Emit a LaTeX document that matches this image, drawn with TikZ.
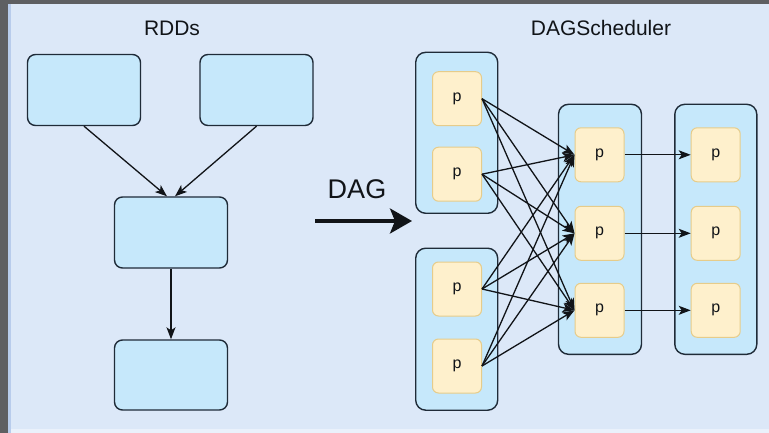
\documentclass[tikz,border=0pt]{standalone}
\usepackage{fontspec}
\setmainfont{Liberation Sans}
\usetikzlibrary{arrows.meta}

\definecolor{pagebg}{HTML}{DCE8F8}
\definecolor{frame}{HTML}{5E5F62}
\definecolor{frameedge}{HTML}{B8CCEC}
\definecolor{boxfill}{HTML}{C6E8FB}
\definecolor{boxline}{HTML}{1F2B38}
\definecolor{pfill}{HTML}{FEF0CC}
\definecolor{pline}{HTML}{E6CC8A}
\definecolor{ink}{HTML}{111418}

\tikzset{
  rddbox/.style={draw=boxline, fill=boxfill, line width=1.4pt, rounded corners=8pt,
    minimum width=113pt, minimum height=71pt, inner sep=0pt},
  stagebox/.style={draw=boxline, fill=boxfill, line width=1.4pt, rounded corners=10pt,
    minimum width=82pt, inner sep=0pt},
  pbox/.style={draw=pline, fill=pfill, line width=1pt, rounded corners=6pt,
    minimum width=49pt, minimum height=54pt, inner sep=0pt, text=ink,
    font=\fontsize{16}{16}\selectfont},
  label/.style={text=ink, inner sep=0pt, font=\fontsize{21}{21}\selectfont},
  link/.style={draw=ink, line width=1.3pt, -{Stealth[length=12pt,width=9pt,inset=3pt]}},
}

\begin{document}
\begin{tikzpicture}[x=1pt,y=-1pt]
\useasboundingbox (0,0) rectangle (769,433);
% page background and window frame
\fill[pagebg] (0,0) rectangle (769,433);
\fill[white!40!pagebg] (10,429) rectangle (769,433);
\fill[frameedge] (8,4) rectangle (10.5,433);
\fill[frame] (0,0) rectangle (769,4);
\fill[frame] (0,0) rectangle (8,433);

% titles
\node[label] (rddtitle) at (172,28) {RDDs};
\node[label] (schedtitle) at (601,28) {DAGScheduler};

% RDD lineage
\node[rddbox] (ra) at (84,90) {};
\node[rddbox] (rb) at (256.5,90) {};
\node[rddbox] (rc) at (171,232.5) {};
\node[rddbox, minimum height=70pt] (rd) at (171,375) {};

\draw[link] (ra.south) -- ([xshift=-4pt]rc.north);
\draw[link] (rb.south) -- ([xshift=4pt]rc.north);
\draw[link] (rc.south) -- (rd.north);

% hand-over arrow
\node[text=ink, inner sep=0pt, font=\fontsize{27}{27}\selectfont] (dagtext) at (357,189) {DAG};
\coordinate (dagfrom) at (315,221);
\coordinate (dagto) at (412,221);
\draw[draw=ink, line width=3.4pt, -{Stealth[length=22pt,width=25pt,inset=5pt]}] (dagfrom) -- (dagto);

% stages
\node[stagebox, minimum height=161pt] (s1) at (456.7,132.8) {};
\node[stagebox, minimum height=162pt] (s4) at (456.7,329.2) {};
\node[stagebox, minimum height=250pt, minimum width=83pt] (s2) at (600,229.3) {};
\node[stagebox, minimum height=250pt] (s3) at (715.8,229.3) {};

% partitions
\node[pbox] (a1) at (457,98.7) {p};
\node[pbox] (a2) at (457,174.2) {p};
\node[pbox] (a3) at (457,289) {p};
\node[pbox] (a4) at (457,366) {p};

\node[pbox] (b1) at (599.5,154.8) {p};
\node[pbox] (b2) at (599.5,233.3) {p};
\node[pbox] (b3) at (599.5,310.3) {p};

\node[pbox] (c1) at (715.7,154.8) {p};
\node[pbox] (c2) at (715.7,233.3) {p};
\node[pbox] (c3) at (715.7,310.3) {p};

% shuffle dependencies
\foreach \s in {a1,a2,a3,a4}
  \foreach \t in {b1,b2,b3}
    \draw[link] (\s.east) -- (\t.west);

% narrow dependencies
\draw[link] (b1.east) -- (c1.west);
\draw[link] (b2.east) -- (c2.west);
\draw[link] (b3.east) -- (c3.west);
\end{tikzpicture}
\end{document}
